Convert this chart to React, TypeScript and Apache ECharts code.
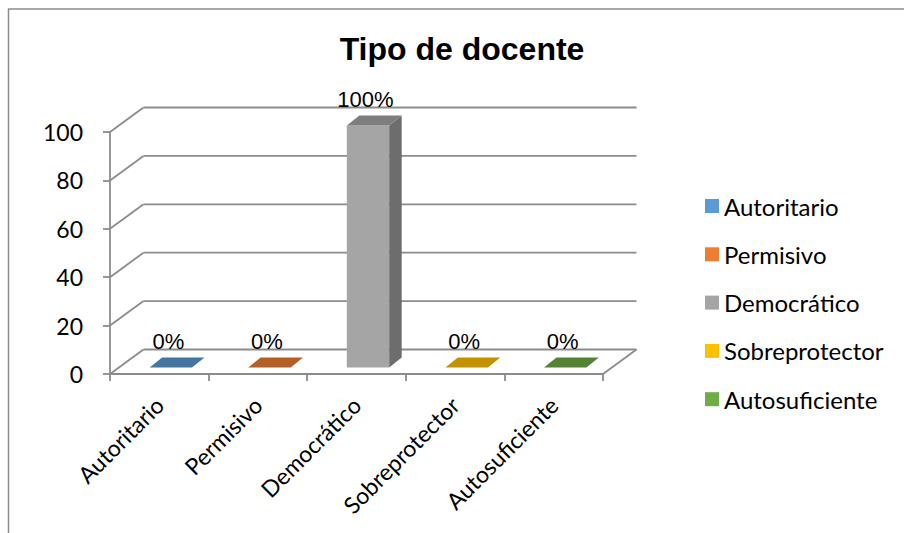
import React, { useEffect, useRef } from "react";
import * as echarts from "echarts";

const categories = ["Autoritario", "Permisivo", "Democrático", "Sobreprotector", "Autosuficiente"];
const values = [0, 0, 100, 0, 0];
const yTicks = [0, 20, 40, 60, 80, 100];
const title = "Tipo de docente";

const baseColors = ["#5b9bd5", "#ed7d31", "#a5a5a5", "#ffc000", "#70ad47"];
const topColors = ["#4576a2", "#b45f25", "#7e7e7e", "#c29200", "#558336"];
const sideColors = ["#3c6890", "#9c5220", "#6d6d6d", "#a88000", "#4a722f"];

const LINE = "#8c8c8c";
const LW = 1.8;
// depth of the plot (front plane -> back wall)
const DX = 33.5;
const DY = -24.5;
// bar front face offset from the front plane, and bar depth
const FX = 11.5;
const FY = -6.5;
const BDX = 12.5;
const BDY = -10;
const BAR_RATIO = 0.43;

export default function App() {
  const ref = useRef<HTMLDivElement>(null);

  useEffect(() => {
    if (!ref.current) return;
    const chart = echarts.init(ref.current, null, { renderer: "svg" });

    const wallSeries: any = {
      type: "custom",
      name: "__wall",
      silent: true,
      z: 1,
      data: yTicks.map((v) => [0, v]),
      encode: { x: 0, y: 1 },
      renderItem: (params: any, api: any) => {
        const v = api.value(1);
        const p = api.coord([0, v]);
        const cs = params.coordSys;
        const x0 = cs.x;
        const x1 = cs.x + cs.width;
        const y = p[1];
        const style = { stroke: LINE, lineWidth: LW };
        const children: any[] = [
          { type: "line", shape: { x1: x0, y1: y, x2: x0 + DX, y2: y + DY }, style },
          { type: "line", shape: { x1: x0 + DX, y1: y + DY, x2: x1 + DX, y2: y + DY }, style },
        ];
        if (v === 0) {
          children.push({ type: "line", shape: { x1: x1, y1: y, x2: x1 + DX, y2: y + DY }, style });
        }
        return { type: "group", children };
      },
    };

    const barSeries = categories.map((name, i) => ({
      type: "custom",
      name,
      z: 3,
      itemStyle: { color: baseColors[i] },
      data: [[i, values[i]]],
      encode: { x: 0, y: 1 },
      renderItem: (params: any, api: any) => {
        const idx = api.value(0);
        const v = api.value(1);
        const top = api.coord([idx, v]);
        const base = api.coord([idx, 0]);
        const bw = api.size([1, 0])[0] * BAR_RATIO;
        const cx = top[0] + FX;
        const L = cx - bw / 2;
        const R = cx + bw / 2;
        const yt = top[1] + FY;
        const yb = base[1] + FY;
        const children: any[] = [];
        if (yb - yt > 0.5) {
          children.push({
            type: "rect",
            shape: { x: L, y: yt, width: bw, height: yb - yt },
            style: { fill: baseColors[i] },
          });
          children.push({
            type: "polygon",
            shape: {
              points: [
                [R, yt],
                [R + BDX, yt + BDY],
                [R + BDX, yb + BDY],
                [R, yb],
              ],
            },
            style: { fill: sideColors[i] },
          });
        }
        children.push({
          type: "polygon",
          shape: {
            points: [
              [L, yt],
              [R, yt],
              [R + BDX, yt + BDY],
              [L + BDX, yt + BDY],
            ],
          },
          style: { fill: topColors[i] },
        });
        children.push({
          type: "text",
          style: {
            text: v + "%",
            x: cx - 2.5,
            y: yt - 26,
            align: "center",
            verticalAlign: "middle",
            textAlign: "center",
            textVerticalAlign: "middle",
            fontSize: 22,
            fontFamily: "Liberation Sans",
            fill: "#000",
          },
        });
        return { type: "group", children };
      },
    }));

    chart.setOption({
      animation: false,
      backgroundColor: "#ffffff",
      textStyle: { fontFamily: "Lato" },
      grid: { left: 110, right: 301, top: 132, bottom: 159, containLabel: false },
      graphic: [
        {
          type: "line",
          shape: { x1: 8, y1: 9, x2: 904, y2: 9 },
          style: { stroke: LINE, lineWidth: 1.5 },
          silent: true,
        },
        {
          type: "line",
          shape: { x1: 8.5, y1: 9, x2: 8.5, y2: 533 },
          style: { stroke: LINE, lineWidth: 1.5 },
          silent: true,
        },
        {
          type: "text",
          x: 462,
          y: 49,
          silent: true,
          style: {
            text: title,
            align: "center",
            verticalAlign: "middle",
            textAlign: "center",
            textVerticalAlign: "middle",
            fontSize: 32,
            fontWeight: "bold",
            fontFamily: "Liberation Sans",
            fill: "#000",
          },
        },
      ],
      legend: {
        data: categories,
        orient: "vertical",
        left: 700,
        top: 189,
        itemWidth: 14,
        itemHeight: 14,
        itemGap: 24.3,
        icon: "rect",
        selectedMode: false,
        textStyle: { fontFamily: "Lato", fontSize: 24, color: "#000" },
      },
      xAxis: {
        type: "category",
        data: categories,
        boundaryGap: true,
        axisLine: { show: true, lineStyle: { color: LINE, width: LW } },
        axisTick: { show: true, length: 7, interval: 0, lineStyle: { color: LINE, width: LW } },
        axisLabel: {
          interval: 0,
          rotate: 45,
          margin: 27,
          fontFamily: "Lato",
          fontSize: 23,
          color: "#000",
        },
        splitLine: { show: false },
      },
      yAxis: {
        type: "value",
        min: 0,
        max: 100,
        interval: 20,
        axisLine: { show: true, lineStyle: { color: LINE, width: LW } },
        axisTick: { show: true, length: 7, lineStyle: { color: LINE, width: LW } },
        axisLabel: { margin: 27, fontFamily: "Lato", fontSize: 23, color: "#000" },
        splitLine: { show: false },
      },
      series: [wallSeries, ...barSeries],
    });

    return () => chart.dispose();
  }, []);

  return (
    <div
      ref={ref}
      style={{ position: "absolute", left: 0, top: 0, width: 904, height: 533 }}
    />
  );
}
